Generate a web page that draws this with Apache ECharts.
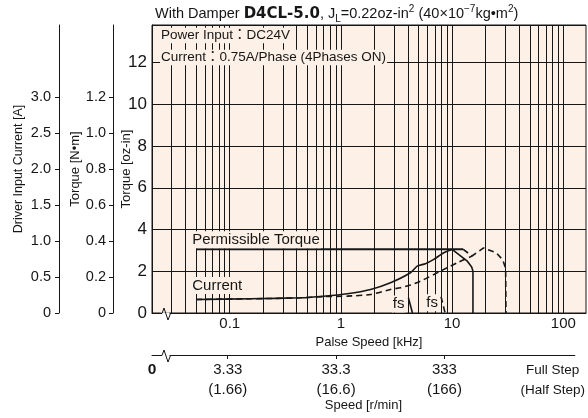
<!DOCTYPE html>
<html>
<head>
<meta charset="utf-8">
<script src="https://cdn.jsdelivr.net/npm/echarts@6/dist/echarts.min.js"></script>
<style>
html, body { margin: 0; padding: 0; background: #ffffff; }
#chart { width: 588px; height: 418px; }
</style>
</head>
<body>
<div id="chart"></div>
<script>
// Pulse-speed axis labels [kHz]
const pulseTicks = [0.1, 1, 10, 100];
// Vertical grid lines [kHz]
const gridFreqs = [0.03, 0.04, 0.05, 0.06, 0.07, 0.08, 0.09,
  0.1, 0.2, 0.3, 0.4, 0.5, 0.6, 0.7, 0.8, 0.9,
  1, 2, 3, 4, 5, 6, 7, 8, 9,
  10, 20, 30, 40, 50, 60, 70, 80, 90, 100];
// Speed axis [r/min]: full step value over half step value
const speedTickAt = [0.02, 0.1, 1, 10, 100];
const speedFull = ['0', '3.33', '33.3', '333', 'Full Step'];
const speedHalf = ['', '(1.66)', '(16.6)', '(166)', '(Half Step)'];
const speedMarks = [0.1, 1, 10];
// Left axes
const currentTicks = [0, 0.5, 1.0, 1.5, 2.0, 2.5, 3.0];
const torqueNmTicks = [0, 0.2, 0.4, 0.6, 0.8, 1.0, 1.2];
const torqueOzTicks = [0, 2, 4, 6, 8, 10, 12];

// Permissible torque [kHz, oz-in]
const permFreq = [0.05, 12.6];
const permTorque = [3.05, 3.05];
// Pull-out torque past the limit, full step (solid)
const fullTorqueFreq = [10, 13.6, 15, 15.4, 15.4];
const fullTorque = [3.05, 2.5, 2.2, 2.0, 0];
// Pull-out torque past the limit, half step (dashed)
const halfTorqueFreq = [12.6, 15.1, 19.2, 25, 28.5, 30.3, 30.5];
const halfTorque = [3.05, 2.73, 3.12, 2.88, 2.55, 2.15, 0];
// Driver input current [kHz, A], full step (solid)
const curFullFreq = [0.05, 0.154, 0.434, 0.70, 1.14, 1.85, 2.79, 4.22, 4.85, 5.75, 6.84, 8.41, 10];
const curFull = [0.188, 0.197, 0.211, 0.233, 0.267, 0.327, 0.42, 0.559, 0.651, 0.684, 0.744, 0.837, 0.883];
// Driver input current, half step (dashed)
const curHalfFreq = [0.05, 0.154, 0.434, 0.70, 1.14, 1.85, 2.79, 3.43, 4.22, 5.19, 7.85, 11.1, 15.1];
const curHalf = [0.188, 0.197, 0.211, 0.228, 0.234, 0.257, 0.327, 0.35, 0.39, 0.442, 0.581, 0.698, 0.79];
// Start frequency marks fs [kHz, oz-in]
const fsFullFreq = [4.05, 4.4];
const fsFullTorque = [0.72, 0];
const fsHalfFreq = [7.95, 8.65];
const fsHalfTorque = [0.78, 0];

const SANS = '"Liberation Sans", Arial, "Noto Sans CJK JP", sans-serif';
const INK = '#161616';
const PAPER = '#fdf0e6';

const pairs = (xs, ys) => xs.map((x, i) => [x, ys[i]]);

const chart = echarts.init(document.getElementById('chart'), null, { renderer: 'canvas' });

function curve(name, xs, ys, yIdx, width, dashed, smooth) {
  return {
    name, type: 'line', xAxisIndex: 0, yAxisIndex: yIdx,
    data: pairs(xs, ys), symbol: 'none', smooth: smooth || false,
    lineStyle: { color: INK, width, type: dashed ? [6, 4] : 'solid' },
    silent: true, animation: false, z: 4
  };
}

const nameStyle = size => ({ fontFamily: SANS, fontSize: size, color: INK, fontWeight: 'normal' });

const option = {
  animation: false,
  title: {
    left: 150, top: -1,
    text: '{a|With Damper }{b|D4CL-5.0}{a|, J}{s|L}{a|=0.22oz-in}{p|2}{a| (40×10}{p|−7}{a|kg•m}{p|2}{a|)}',
    textStyle: {
      fontWeight: 'normal',
      rich: {
        a: { fontFamily: SANS, fontWeight: 'normal', fontSize: 14.5, color: INK, lineHeight: 20 },
        b: { fontFamily: '"DejaVu Sans", sans-serif', fontWeight: 'bold', fontSize: 15, color: INK, lineHeight: 20 },
        s: { fontFamily: SANS, fontWeight: 'normal', fontSize: 10, color: INK, lineHeight: 14, verticalAlign: 'bottom' },
        p: { fontFamily: SANS, fontWeight: 'normal', fontSize: 10, color: INK, lineHeight: 12, verticalAlign: 'top' }
      }
    }
  },
  grid: [
    { left: 152, top: 25, width: 434, height: 288, show: true, backgroundColor: PAPER, borderColor: INK, borderWidth: 1 },
    { left: 152, top: 354, width: 436, height: 1 }
  ],
  xAxis: [
    {
      type: 'log', gridIndex: 0, logBase: 10, min: 0.02, max: 160,
      axisLine: { lineStyle: { color: INK, width: 1 } },
      axisTick: { show: false },
      splitLine: { show: false },
      axisLabel: {
        customValues: pulseTicks, margin: 3,
        fontFamily: SANS, fontSize: 15, color: INK,
        formatter: v => String(+v.toPrecision(3))
      },
      name: 'Palse Speed [kHz]', nameLocation: 'middle', nameGap: 23, nameMoveOverlap: false,
      nameTextStyle: nameStyle(13)
    },
    {
      type: 'log', gridIndex: 1, logBase: 10, min: 0.02, max: 160,
      axisLine: { lineStyle: { color: INK, width: 1 } },
      axisTick: { show: true, customValues: speedMarks, length: 4, lineStyle: { color: INK } },
      splitLine: { show: false },
      axisLabel: {
        customValues: speedTickAt, margin: 5,
        formatter: v => {
          const i = speedTickAt.findIndex(t => Math.abs(Math.log10(t) - Math.log10(v)) < 1e-6);
          if (i < 0) return '';
          if (i === 0) return '{z|' + speedFull[0] + '}';
          if (i === speedTickAt.length - 1) return '{w|' + speedFull[i] + '}\n{w|' + speedHalf[i] + '}';
          return '{n|' + speedFull[i] + '}\n{n|' + speedHalf[i] + '}';
        },
        rich: {
          z: { fontFamily: SANS, fontWeight: 'bold', fontSize: 15.5, color: INK, lineHeight: 20 },
          n: { fontFamily: SANS, fontSize: 15, color: INK, lineHeight: 20 },
          w: { fontFamily: SANS, fontSize: 13.5, color: INK, lineHeight: 20 }
        }
      },
      name: 'Speed [r/min]', nameLocation: 'middle', nameGap: 44, nameMoveOverlap: false,
      nameTextStyle: nameStyle(13)
    }
  ],
  yAxis: [
    {
      type: 'value', gridIndex: 0, position: 'left', min: 0, max: 13.8, interval: 2,
      axisLine: { show: true, lineStyle: { color: INK, width: 1 } },
      axisTick: { show: false },
      splitLine: { show: true, lineStyle: { color: INK, width: 1 } },
      axisLabel: { customValues: torqueOzTicks, margin: 5, fontFamily: SANS, fontSize: 17, color: INK },
      name: 'Torque [oz-in]', nameLocation: 'middle', nameGap: 19, nameMoveOverlap: false,
      nameTextStyle: nameStyle(13)
    },
    {
      type: 'value', gridIndex: 0, position: 'left', offset: 39, min: 0, max: 1.6,
      axisLine: { show: true, lineStyle: { color: INK, width: 1 } },
      axisTick: { show: true, customValues: torqueNmTicks, length: 4, lineStyle: { color: INK } },
      splitLine: { show: false },
      axisLabel: {
        customValues: torqueNmTicks, margin: 7, fontFamily: SANS, fontSize: 14.5, color: INK,
        formatter: v => (v === 0 ? '0' : v.toFixed(1))
      },
      name: 'Torque [N•m]', nameLocation: 'middle', nameGap: 31, nameMoveOverlap: false,
      nameTextStyle: nameStyle(13)
    },
    {
      type: 'value', gridIndex: 0, position: 'left', offset: 93, min: 0, max: 4.0,
      axisLine: { show: true, lineStyle: { color: INK, width: 1 } },
      axisTick: { show: true, customValues: currentTicks, length: 4, lineStyle: { color: INK } },
      splitLine: { show: false },
      axisLabel: {
        customValues: currentTicks, margin: 8, fontFamily: SANS, fontSize: 14.5, color: INK,
        formatter: v => (v === 0 ? '0' : v.toFixed(1))
      },
      name: 'Driver Input Current [A]', nameLocation: 'middle', nameGap: 34, nameMoveOverlap: false,
      nameTextStyle: nameStyle(12.5)
    },
    { type: 'value', gridIndex: 1, min: 0, max: 1, show: false }
  ],
  series: [
    {
      name: 'grid', type: 'line', xAxisIndex: 0, yAxisIndex: 0, data: [], silent: true, z: 1,
      markLine: {
        silent: true, symbol: 'none', animation: false,
        label: { show: false },
        lineStyle: { color: INK, width: 1, type: 'solid' },
        data: gridFreqs.map(f => ({ xAxis: f }))
      }
    },
    curve('Permissible Torque', permFreq, permTorque, 0, 2, false),
    curve('Pull-out Full', fullTorqueFreq, fullTorque, 0, 1.6, false),
    curve('Pull-out Half', halfTorqueFreq, halfTorque, 0, 1.6, true),
    curve('Current Full', curFullFreq, curFull, 2, 1.6, false, 0.2),
    curve('Current Half', curHalfFreq, curHalf, 2, 1.6, true, 0.2),
    curve('fs Full', fsFullFreq, fsFullTorque, 0, 1.6, false),
    curve('fs Half', fsHalfFreq, fsHalfTorque, 0, 1.6, true)
  ]
};

chart.setOption(option);

// Annotations placed from the chart's own scales
const px = (f, v, yIdx) => chart.convertToPixel({ xAxisIndex: 0, yAxisIndex: yIdx }, [f, v]);
const origin = px(0.02, 0, 0);
const speedY = chart.convertToPixel({ yAxisIndex: 3 }, 0);
const permPt = px(permFreq[0], permTorque[0], 0);
const curPt = px(curFullFreq[0], curFull[0], 2);
const fs1 = px(fsFullFreq[0], fsFullTorque[0], 0);
const fs2 = px(fsHalfFreq[0], fsHalfTorque[0], 0);

const noteFont = '13.5px ' + SANS;
const labelFont = '15px ' + SANS;

function boxText(text, x, y, font, align) {
  return {
    type: 'text', z: 100, silent: true,
    style: {
      text, x, y, font, fill: INK, align: align || 'left', verticalAlign: 'middle',
      backgroundColor: PAPER, padding: [1, 1, 1, 1]
    }
  };
}

function zigzag(x0, y0) {
  return [
    { type: 'rect', z: 90, silent: true, shape: { x: x0 + 8, y: y0 - 1, width: 9, height: 3 }, style: { fill: '#ffffff' } },
    {
      type: 'polyline', z: 91, silent: true,
      shape: { points: [[x0, y0], [x0 + 9.5, y0], [x0 + 11.5, y0 - 5.5], [x0 + 15.5, y0 + 6.5], [x0 + 18, y0]] },
      style: { stroke: INK, lineWidth: 1, fill: null }
    }
  ];
}

chart.setOption({
  graphic: [
    boxText('Power Input：DC24V', 160, 35.5, noteFont),
    boxText('Current：0.75A/Phase (4Phases ON)', 160, 57.5, noteFont),
    boxText('Permissible Torque', permPt[0] - 5, permPt[1] - 9.5, labelFont),
    boxText('Current', curPt[0] - 5, curPt[1] - 14, labelFont),
    boxText('fs', fs1[0] - 3, fs1[1] + 6, labelFont, 'right'),
    boxText('fs', fs2[0] - 2, fs2[1] + 6, labelFont, 'right'),
    ...zigzag(origin[0] + 0.5, origin[1] + 0.5),
    ...zigzag(origin[0] + 0.5, speedY + 0.5)
  ]
});
</script>
</body>
</html>
